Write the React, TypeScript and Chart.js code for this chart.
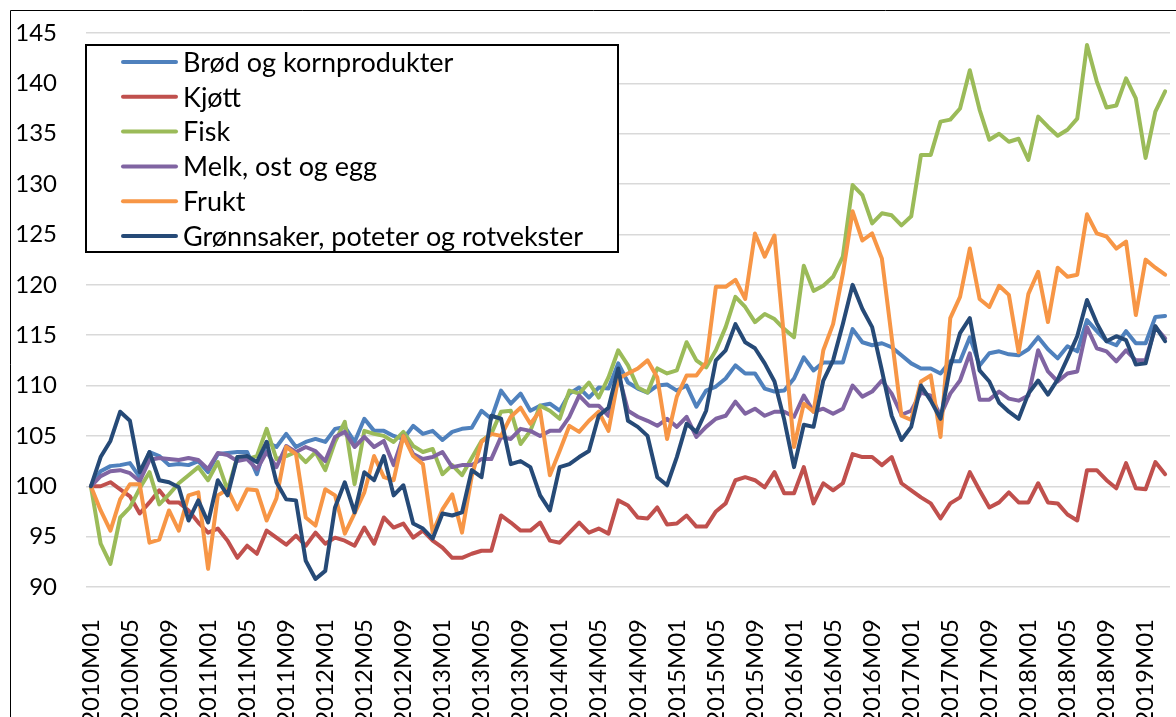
import React, { useEffect, useRef } from "react";
import { Chart, registerables } from "chart.js";

Chart.register(...registerables);

// Categories: monthly, 2010M01 .. 2019M03
const startYear = 2010;
const endYear = 2019;
const lastMonthOfEndYear = 3;
const categories: string[] = [];
for (let y = startYear; y <= endYear; y++) {
  const maxM = y === endYear ? lastMonthOfEndYear : 12;
  for (let m = 1; m <= maxM; m++) {
    categories.push(`${y}M${String(m).padStart(2, "0")}`);
  }
}

const seriesNames = [
  "Brød og kornprodukter",
  "Kjøtt",
  "Fisk",
  "Melk, ost og egg",
  "Frukt",
  "Grønnsaker, poteter og rotvekster",
];

const seriesColors = ["#4F81BD", "#C0504D", "#9BBB59", "#8064A2", "#F79646", "#264A77"];

const yTicks = [90, 95, 100, 105, 110, 115, 120, 125, 130, 135, 140, 145];

const brod = [
  100, 101.5, 102.0, 102.1, 102.3, 100.9, 103.4, 103.0, 102.1, 102.2,
  102.1, 102.5, 101.4, 103.2, 103.3, 103.4, 103.4, 101.2, 104.4, 103.9,
  105.2, 103.9, 104.4, 104.7, 104.4, 105.7, 105.9, 104.4, 106.7, 105.5,
  105.5, 105.0, 104.7, 106.0, 105.2, 105.5, 104.6, 105.4, 105.7, 105.8,
  107.5, 106.7, 109.5, 108.2, 109.2, 107.5, 108.0, 108.2, 107.5, 109.2,
  109.8, 108.8, 109.8, 109.7, 112.2, 110.3, 109.7, 109.3, 110.0, 110.1,
  109.5, 110.0, 107.9, 109.5, 109.9, 110.7, 112.0, 111.2, 111.2, 109.7,
  109.4, 109.5, 110.7, 112.8, 111.5, 112.3, 112.3, 112.3, 115.6, 114.3,
  114.0, 114.2, 113.8, 113.0, 112.2, 111.7, 111.7, 111.2, 112.4, 112.4,
  114.8, 112.0, 113.2, 113.4, 113.1, 113.0, 113.6, 114.8, 113.6, 112.7,
  113.9, 113.4, 116.5, 115.4, 114.4, 114.0, 115.4, 114.2, 114.2, 116.8,
  116.9,
];

const kjott = [
  100, 100.0, 100.4, 99.7, 99.0, 97.3, 98.4, 99.6, 98.4, 98.4,
  97.6, 96.4, 95.4, 95.8, 94.6, 92.9, 94.1, 93.3, 95.6, 94.9,
  94.2, 95.1, 94.1, 95.4, 94.3, 94.9, 94.6, 94.1, 95.9, 94.3,
  96.9, 95.9, 96.3, 94.9, 95.6, 94.6, 93.9, 92.9, 92.9, 93.3,
  93.6, 93.6, 97.1, 96.4, 95.6, 95.6, 96.4, 94.6, 94.4, 95.4,
  96.4, 95.4, 95.8, 95.3, 98.6, 98.1, 96.9, 96.8, 97.9, 96.2,
  96.3, 97.1, 96.0, 96.0, 97.5, 98.3, 100.6, 100.9, 100.6, 99.9,
  101.4, 99.3, 99.3, 101.9, 98.3, 100.3, 99.6, 100.3, 103.2, 102.9,
  102.9, 102.1, 102.9, 100.3, 99.6, 98.9, 98.3, 96.8, 98.3, 98.9,
  101.4, 99.6, 97.9, 98.4, 99.4, 98.4, 98.4, 100.3, 98.4, 98.3,
  97.2, 96.6, 101.6, 101.6, 100.6, 99.8, 102.3, 99.8, 99.7, 102.4,
  101.2,
];

const fisk = [
  100, 94.3, 92.3, 96.9, 97.9, 99.8, 101.4, 98.2, 99.2, 100.3,
  101.1, 101.9, 100.6, 102.4, 99.6, 102.9, 102.7, 103.0, 105.7, 102.7,
  103.0, 103.4, 102.4, 103.4, 101.6, 104.4, 106.4, 100.2, 105.5, 105.2,
  105.0, 104.4, 105.4, 104.0, 103.4, 103.7, 101.2, 102.1, 101.1, 102.8,
  104.5, 105.2, 107.4, 107.5, 104.2, 105.5, 108.0, 107.5, 106.7, 109.5,
  109.2, 110.3, 108.8, 110.8, 113.5, 112.0, 109.8, 109.3, 111.7, 111.2,
  111.5, 114.3, 112.5, 111.8, 113.5, 115.8, 118.8, 117.8, 116.3, 117.1,
  116.6, 115.6, 114.8, 121.9, 119.4, 119.9, 120.8, 122.8, 129.9, 128.9,
  126.1, 127.1, 126.9, 125.9, 126.8, 132.9, 132.9, 136.2, 136.4, 137.5,
  141.3, 137.4, 134.4, 135.0, 134.2, 134.5, 132.4, 136.7, 135.7, 134.8,
  135.4, 136.5, 143.8, 140.2, 137.6, 137.8, 140.5, 138.5, 132.6, 137.2,
  139.2,
];

const melk = [
  100, 101.0, 101.5, 101.6, 101.3, 100.5, 102.6, 102.8, 102.7, 102.6,
  102.8, 102.6, 101.7, 103.3, 103.1, 102.5, 102.7, 101.7, 103.4, 101.9,
  104.0, 103.4, 103.9, 103.5, 102.5, 104.9, 105.4, 103.9, 104.9, 103.9,
  104.5, 102.1, 105.0, 103.2, 102.7, 102.9, 103.4, 101.9, 102.1, 102.1,
  102.7, 102.7, 104.9, 104.7, 105.7, 105.5, 105.0, 105.5, 105.5, 106.9,
  109.0, 108.0, 108.0, 107.0, 111.2, 107.5, 106.9, 106.5, 106.0, 106.7,
  105.9, 106.9, 104.9, 105.9, 106.7, 107.0, 108.4, 107.2, 107.7, 107.0,
  107.4, 107.4, 106.9, 109.0, 107.4, 107.7, 107.2, 107.7, 110.0, 108.9,
  109.4, 110.5, 109.2, 107.1, 107.5, 109.3, 109.0, 107.0, 109.2, 110.5,
  113.2, 108.6, 108.6, 109.4, 108.7, 108.5, 109.0, 113.5, 111.4, 110.4,
  111.2, 111.4, 115.8, 113.7, 113.4, 112.4, 113.5, 112.5, 112.5, 115.8,
  114.7,
];

const frukt = [
  100, 97.6, 95.6, 98.7, 100.2, 100.2, 94.4, 94.7, 97.6, 95.6,
  99.1, 99.4, 91.8, 99.1, 99.7, 97.7, 99.7, 99.6, 96.6, 98.8,
  103.9, 103.2, 96.9, 96.1, 99.7, 99.1, 95.3, 97.3, 99.4, 103.0,
  100.9, 100.6, 105.0, 103.0, 102.2, 95.4, 97.7, 99.2, 95.4, 101.0,
  104.4, 105.2, 105.0, 106.9, 107.8, 106.2, 107.5, 101.1, 103.5, 106.0,
  105.4, 106.5, 107.4, 105.5, 110.7, 111.2, 111.7, 112.5, 110.8, 104.7,
  108.9, 111.0, 111.0, 112.3, 119.8, 119.8, 120.5, 118.6, 125.1, 122.8,
  124.9, 114.5, 103.9, 108.2, 107.4, 113.5, 116.1, 121.1, 127.3, 124.4,
  125.1, 122.6, 114.8, 107.0, 106.6, 110.4, 111.0, 104.9, 116.7, 118.8,
  123.6, 118.6, 117.8, 119.9, 119.0, 113.3, 119.1, 121.3, 116.3, 121.7,
  120.8, 121.0, 127.0, 125.1, 124.8, 123.6, 124.3, 117.0, 122.5, 121.7,
  121.0,
];

const gronnsaker = [
  100, 102.9, 104.5, 107.4, 106.5, 101.4, 103.4, 100.6, 100.4, 99.9,
  96.6, 98.6, 96.4, 100.6, 99.1, 102.9, 103.0, 102.4, 104.4, 100.4,
  98.7, 98.6, 92.6, 90.8, 91.6, 97.9, 100.4, 97.4, 101.4, 100.6,
  103.0, 99.1, 100.1, 96.3, 95.8, 94.8, 97.3, 97.1, 97.4, 101.6,
  100.9, 107.0, 106.7, 102.2, 102.5, 101.9, 99.1, 97.6, 101.9, 102.2,
  102.9, 103.5, 107.0, 107.8, 111.7, 106.5, 105.9, 105.0, 100.9, 100.1,
  102.9, 106.2, 105.4, 107.5, 112.5, 113.5, 116.1, 114.3, 113.7, 112.2,
  110.4, 106.6, 101.9, 106.1, 105.9, 110.5, 112.5, 116.1, 120.0, 117.6,
  115.8, 111.5, 107.0, 104.6, 105.9, 110.0, 108.5, 106.7, 111.9, 115.2,
  116.7, 111.5, 110.4, 108.3, 107.4, 106.7, 109.2, 110.5, 109.1, 110.6,
  112.7, 114.9, 118.5, 116.2, 114.4, 114.9, 114.5, 112.1, 112.2, 115.9,
  114.4,
];

const seriesData = [brod, kjott, fisk, melk, frukt, gronnsaker];

const FONT = "Lato, 'Open Sans', sans-serif";

const legendPlugin = {
  id: "boxLegend",
  afterDraw(chart: any) {
    const { ctx, chartArea } = chart;
    ctx.save();
    // outer chart border (left & top visible)
    ctx.strokeStyle = "#000";
    ctx.lineWidth = 1;
    ctx.beginPath();
    ctx.moveTo(10.5, chart.height + 5);
    ctx.lineTo(10.5, 10.5);
    ctx.lineTo(chart.width + 5, 10.5);
    ctx.stroke();

    // legend box
    const x0 = chartArea.left;
    const y0 = chartArea.top + 12;
    const w = 532;
    const h = 207;
    ctx.fillStyle = "#fff";
    ctx.fillRect(x0, y0, w, h);
    ctx.lineWidth = 2;
    ctx.strokeStyle = "#000";
    ctx.strokeRect(x0, y0, w, h);

    const rowH = 34.8;
    const firstY = y0 + 17;
    ctx.font = `27px ${FONT}`;
    ctx.textBaseline = "middle";
    ctx.textAlign = "left";
    seriesNames.forEach((name, k) => {
      const yy = firstY + k * rowH;
      ctx.strokeStyle = seriesColors[k];
      ctx.lineWidth = 4;
      ctx.lineCap = "round";
      ctx.beginPath();
      ctx.moveTo(x0 + 37, yy);
      ctx.lineTo(x0 + 90, yy);
      ctx.stroke();
      ctx.fillStyle = "#000";
      ctx.fillText(name, x0 + 97, yy + 1);
    });
    ctx.restore();
  },
};

export default function App() {
  const canvasRef = useRef<HTMLCanvasElement | null>(null);

  useEffect(() => {
    if (!canvasRef.current) return;
    document.body.style.margin = "0";
    const chart = new Chart(canvasRef.current, {
      type: "line",
      data: {
        labels: categories,
        datasets: seriesNames.map((name, k) => ({
          label: name,
          data: seriesData[k],
          borderColor: seriesColors[k],
          backgroundColor: seriesColors[k],
          borderWidth: 4,
          pointRadius: 0,
          pointHoverRadius: 0,
          tension: 0,
          fill: false,
          borderJoinStyle: "round",
          borderCapStyle: "round",
          order: seriesNames.length - 1 - k,
        })),
      },
      options: {
        animation: false,
        responsive: false,
        maintainAspectRatio: false,
        layout: { padding: { top: 33, right: 6, left: 0, bottom: 0 } },
        plugins: {
          legend: { display: false },
          tooltip: { enabled: false },
        },
        scales: {
          x: {
            type: "category",
            offset: true,
            grid: { display: false, drawTicks: false },
            border: { display: false },
            ticks: {
              autoSkip: false,
              maxRotation: 90,
              minRotation: 90,
              padding: 32,
              color: "#000",
              font: { family: FONT, size: 24 },
              callback: (_v: any, i: number) => (i % 4 === 0 ? categories[i] : ""),
            },
            afterFit: (s: any) => {
              s.height = 130;
              s.paddingLeft = 0;
              s.paddingRight = 0;
            },
          },
          y: {
            min: yTicks[0],
            max: yTicks[yTicks.length - 1],
            afterBuildTicks: (s: any) => {
              s.ticks = yTicks.map((v) => ({ value: v }));
            },
            ticks: {
              padding: 29,
              color: "#000",
              font: { family: FONT, size: 24 },
            },
            grid: { color: "#d9d9d9", lineWidth: 1.5, drawTicks: false },
            border: { display: false },
            afterFit: (s: any) => {
              s.width = 86;
              s.paddingTop = 0;
              s.paddingBottom = 0;
            },
          },
        },
      },
      plugins: [legendPlugin],
    } as any);
    if ((document as any).fonts && (document as any).fonts.ready) {
      (document as any).fonts.ready.then(() => chart.update());
    }
    return () => chart.destroy();
  }, []);

  return (
    <div
      style={{
        position: "fixed",
        left: 0,
        top: 0,
        width: 1176,
        height: 717,
        overflow: "hidden",
        background: "#fff",
      }}
    >
      <canvas ref={canvasRef} width={1176} height={717} style={{ display: "block" }} />
    </div>
  );
}
